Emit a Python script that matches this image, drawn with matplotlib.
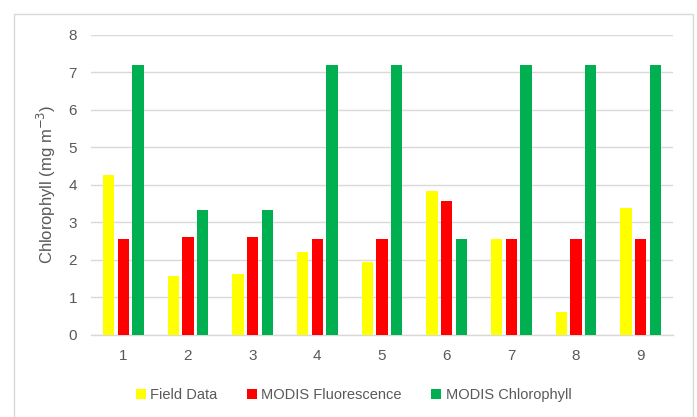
import numpy as np
import matplotlib
matplotlib.use('Agg')
import matplotlib.pyplot as plt
from matplotlib.patches import Rectangle

plt.rcParams['font.family'] = ['Liberation Sans', 'DejaVu Sans']

sites = ['1', '2', '3', '4', '5', '6', '7', '8', '9']
field_data = [4.25, 1.56, 1.63, 2.22, 1.94, 3.83, 2.55, 0.60, 3.37]
modis_fluor = [2.57, 2.60, 2.60, 2.57, 2.57, 3.58, 2.57, 2.57, 2.57]
modis_chl = [7.20, 3.33, 3.33, 7.20, 7.20, 2.55, 7.20, 7.20, 7.20]

txt = '#595959'
grid = '#d9d9d9'

fig = plt.figure(figsize=(6.97, 4.17), dpi=100)
ax = fig.add_axes([91/697, 1 - 335/417, (673 - 91)/697, (335 - 34.7)/417])

x = np.arange(len(sites))
off = 0.227
width = 0.18
ax.bar(x - off, field_data, width, color='#FFFF00', label='Field Data', zorder=3)
ax.bar(x, modis_fluor, width, color='#FF0000', label='MODIS Fluorescence', zorder=3)
ax.bar(x + off, modis_chl, width, color='#00B050', label='MODIS Chlorophyll', zorder=3)

ax.set_xlim(-0.5, len(sites) - 0.5)
ax.set_ylim(0, 8)
ax.set_yticks(range(0, 9))
ax.set_xticks(x)
ax.set_xticklabels(sites)
ax.yaxis.grid(True, color=grid, linewidth=1, zorder=0)
for s in ['top', 'right', 'left']:
    ax.spines[s].set_visible(False)
ax.spines['bottom'].set_color(grid)
ax.spines['bottom'].set_linewidth(1)
ax.tick_params(length=0, colors=txt, labelsize=11)
ax.tick_params(axis='y', pad=10)
ax.tick_params(axis='x', pad=10)
ax.set_ylabel('Chlorophyll (mg m$^{-3}$)', color=txt, fontsize=12, labelpad=8)

fig.legend(loc='center', bbox_to_anchor=(353.5/697, 1 - 395/417), ncol=3, frameon=False,
           fontsize=10.5, labelcolor=txt, handlelength=0.7, handleheight=0.7,
           handletextpad=0.3, columnspacing=2.0)

fig.patches.append(Rectangle((14/697, -0.1), (693 - 14)/697, (417 - 14)/417 + 0.1,
                             transform=fig.transFigure, fill=False,
                             edgecolor=grid, linewidth=1))

fig.savefig('out.png', dpi=100)
